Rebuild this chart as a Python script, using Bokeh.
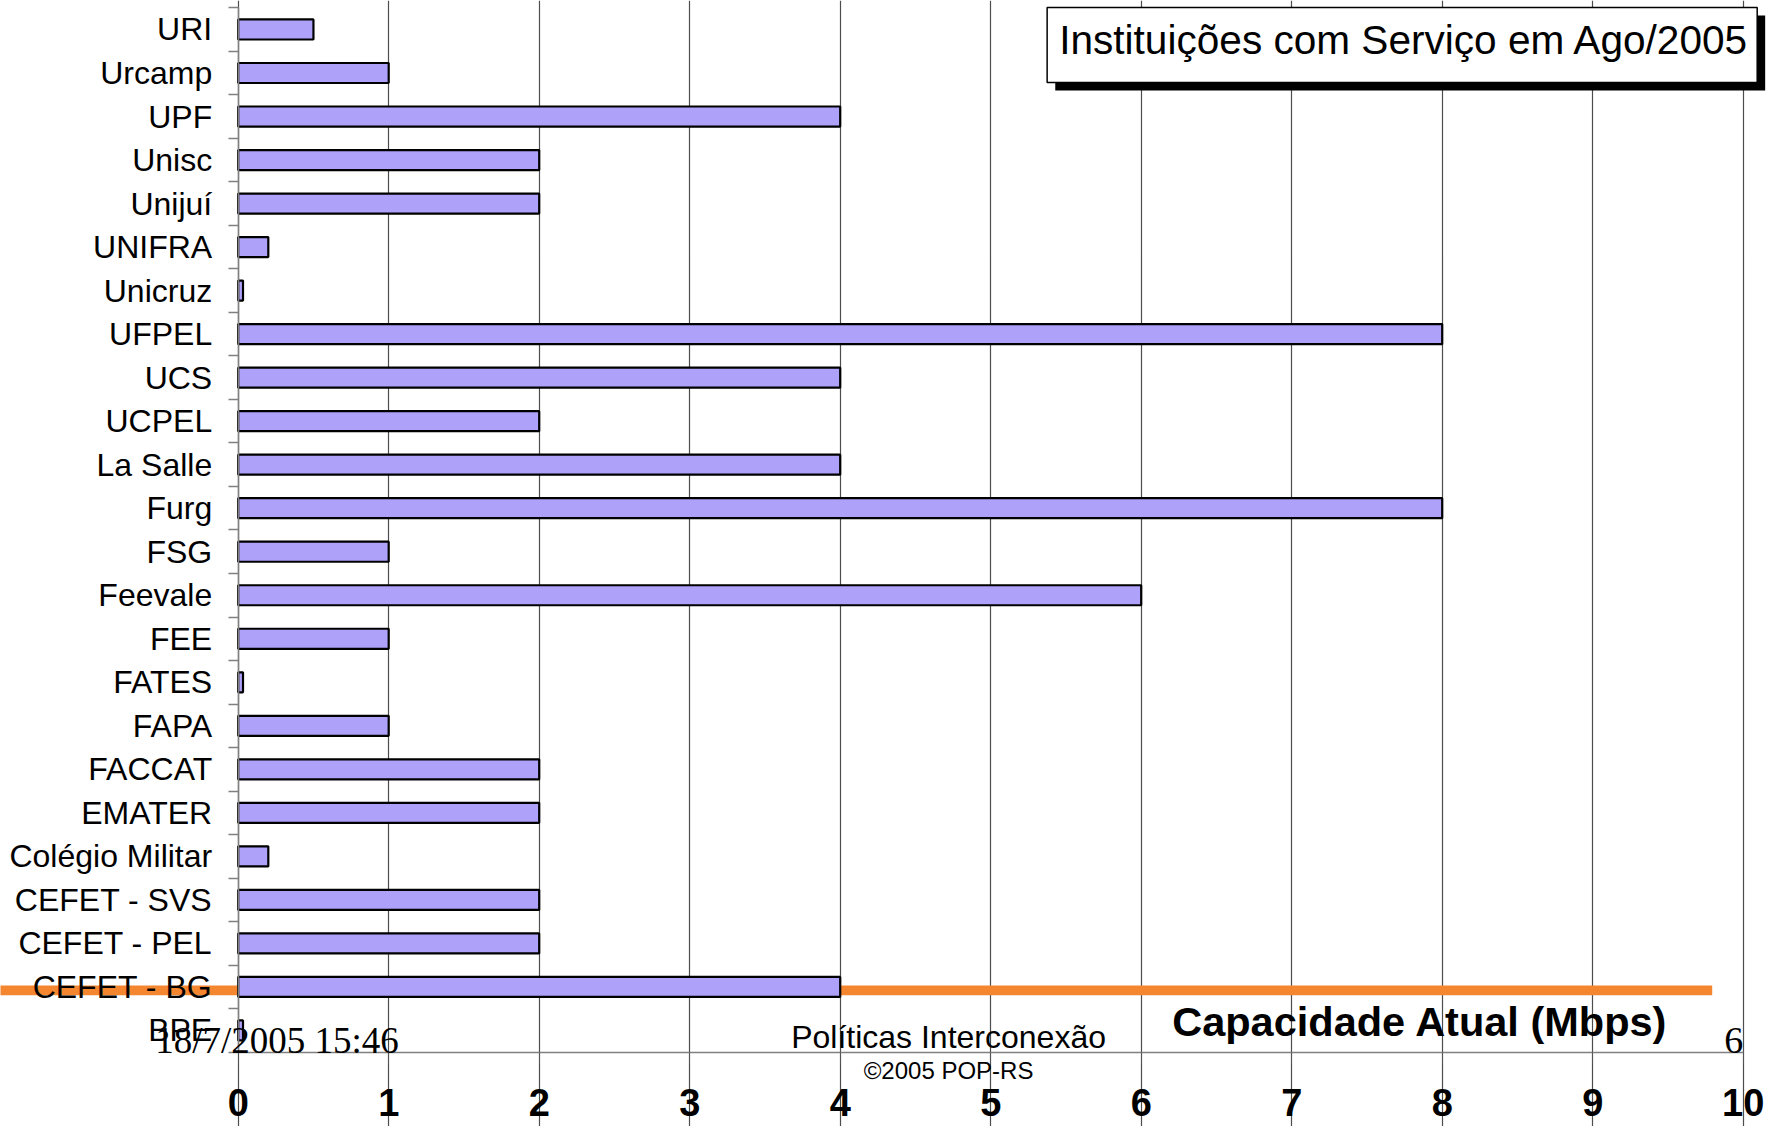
from bokeh.plotting import figure
from bokeh.models import Range1d, FixedTicker, BoxAnnotation, Label, ColumnDataSource
from bokeh.embed import file_html
from bokeh.resources import INLINE

# ---- data (top to bottom as in the chart) ----
institutions = ["URI", "Urcamp", "UPF", "Unisc", "Unijuí", "UNIFRA", "Unicruz",
                "UFPEL", "UCS", "UCPEL", "La Salle", "Furg", "FSG", "Feevale",
                "FEE", "FATES", "FAPA", "FACCAT", "EMATER", "Colégio Militar",
                "CEFET - SVS", "CEFET - PEL", "CEFET - BG", "BPE"]
capacity_mbps = [0.5, 1, 4, 2, 2, 0.2, 0.032,
                 8, 4, 2, 4, 8, 1, 6,
                 1, 0.032, 1, 2, 2, 0.2,
                 2, 2, 4, 0.032]
x_ticks = [0, 1, 2, 3, 4, 5, 6, 7, 8, 9, 10]

chart_title = "Instituições com Serviço em Ago/2005"
axis_title = "Capacidade Atual (Mbps)"
footer_date = "18/7/2005 15:46"
footer_center = "Políticas Interconexão"
footer_copy = "©2005 POP-RS"
page_number = "6"

n = len(institutions)
ypos = [n - i - 0.5 for i in range(n)]
boundaries = list(range(n + 1))

src = ColumnDataSource(dict(name=institutions, y=ypos, value=capacity_mbps))

# frame covers the whole canvas; axes are pinned at x=0 / y=0
p = figure(width=1781, height=1126,
           x_range=Range1d(-1.5794, 10.2545), y_range=Range1d(-1.707, 24.166),
           output_backend="svg", toolbar_location=None,
           min_border_left=0, min_border_right=0,
           min_border_top=0, min_border_bottom=0,
           outline_line_color=None, background_fill_color="white",
           border_fill_color="white")

# orange slide rule (behind bars)
p.add_layout(BoxAnnotation(left=-1.7, right=9.794, bottom=1.31, top=1.53,
                           fill_color="#f4862f", fill_alpha=1.0,
                           line_color=None, level="underlay"))

p.hbar(y="y", right="value", left=0, height=0.46, source=src,
       fill_color="#ada1fa", line_color="black", line_width=2.2)

# axes
xa = p.xaxis[0]
xa.ticker = FixedTicker(ticks=x_ticks)
xa.fixed_location = 0
xa.bounds = (0, 10)
xa.axis_line_color = "#808080"
xa.axis_line_width = 1.5
xa.major_tick_line_color = "#555555"
xa.major_tick_out = 11
xa.major_tick_in = 0
xa.minor_tick_line_color = None
xa.major_label_text_font = "Liberation Sans"
xa.major_label_text_font_style = "bold"
xa.major_label_text_font_size = "38px"
xa.major_label_text_color = "black"
xa.major_label_standoff = 26

ya = p.yaxis[0]
ya.ticker = FixedTicker(ticks=ypos, minor_ticks=boundaries)
ya.major_label_overrides = {y: name for y, name in zip(ypos, institutions)}
ya.fixed_location = 0
ya.bounds = (0, n)
ya.axis_line_color = "#808080"
ya.axis_line_width = 1.5
ya.major_tick_line_color = None
ya.major_tick_out = 0
ya.major_tick_in = 0
ya.minor_tick_line_color = "#808080"
ya.minor_tick_line_width = 1.5
ya.minor_tick_out = 10
ya.minor_tick_in = 0
ya.major_label_text_font = "Liberation Sans"
ya.major_label_text_font_size = "32px"
ya.major_label_text_color = "black"
ya.major_label_standoff = 16

p.xgrid.grid_line_color = "#4d4d4d"
p.xgrid.grid_line_width = 1.2
p.xgrid.bounds = (0, n)
p.ygrid.grid_line_color = None

# title box with shadow
p.add_layout(BoxAnnotation(left=5.429, right=10.146, bottom=22.10, top=23.82,
                           fill_color="black", fill_alpha=1.0, line_color=None))
p.add_layout(BoxAnnotation(left=5.375, right=10.093, bottom=22.28, top=24.005,
                           fill_color="white", fill_alpha=1.0,
                           line_color="black", line_width=1.5, line_alpha=1.0))
p.add_layout(Label(x=5.455, y=23.247, text=chart_title,
                   text_font="Liberation Sans", text_font_size="40.6px",
                   text_color="black", text_baseline="alphabetic"))

# axis title inside plot
p.add_layout(Label(x=7.853, y=0.70, text=axis_title,
                   text_font="Liberation Sans", text_font_style="bold",
                   text_font_size="41.5px", text_align="center",
                   text_baseline="alphabetic", text_color="black"))

# slide footer texts
p.add_layout(Label(x=-0.551, y=0.276, text=footer_date,
                   text_font="Liberation Serif", text_font_size="37px",
                   text_baseline="alphabetic", text_color="black"))
p.add_layout(Label(x=4.72, y=0.35, text=footer_center,
                   text_font="Liberation Sans", text_font_size="32px",
                   text_align="center", text_baseline="alphabetic",
                   text_color="black"))
p.add_layout(Label(x=4.72, y=-0.42, text=footer_copy,
                   text_font="Liberation Sans", text_font_size="24px",
                   text_align="center", text_baseline="alphabetic",
                   text_color="black"))
p.add_layout(Label(x=10.0, y=0.28, text=page_number,
                   text_font="Liberation Serif", text_font_size="38px",
                   text_align="right", text_baseline="alphabetic",
                   text_color="black"))

open("out.html", "w").write(file_html(p, INLINE))
